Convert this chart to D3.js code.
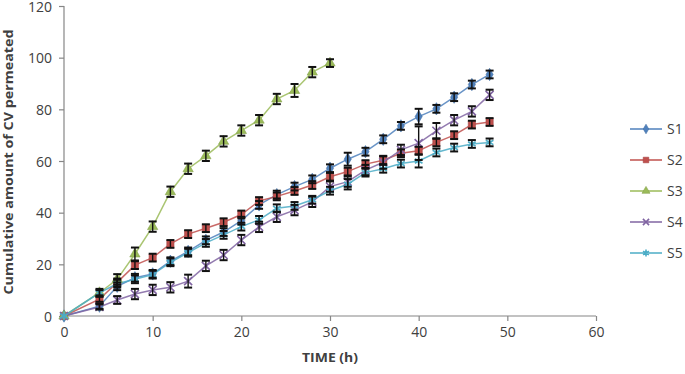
<!DOCTYPE html>
<html>
<head>
<meta charset="utf-8">
<script src="https://cdn.jsdelivr.net/npm/d3@7"></script>
<style>
  html, body { margin: 0; padding: 0; background: #fff; }
  svg { display: block; }
  text { font-family: "Open Sans", "DejaVu Sans", sans-serif; fill: #404040; }
</style>
</head>
<body>
<svg id="chart" width="685" height="374"></svg>
<script>
// ---- data ----
const timesLong = [0, 4, 6, 8, 10, 12, 14, 16, 18, 20, 22, 24, 26, 28, 30, 32, 34, 36, 38, 40, 42, 44, 46, 48];
const timesS3 = [0, 4, 6, 8, 10, 12, 14, 16, 18, 20, 22, 24, 26, 28, 30];

const s1Values = [0, 3.8, 11.5, 14.8, 16.3, 21.2, 25.0, 29.3, 32.5, 36.9, 43.0, 47.0, 50.1, 52.9, 57.2, 60.7, 63.6, 68.4, 73.6, 77.2, 80.2, 84.7, 89.6, 93.5];
const s2Values = [0, 6.5, 13.0, 19.7, 22.6, 27.9, 31.7, 34.0, 36.3, 39.3, 44.5, 46.3, 48.4, 50.7, 53.9, 55.9, 58.8, 60.3, 63.0, 64.0, 67.2, 70.0, 74.1, 75.1];
const s3Values = [0, 9.0, 14.2, 24.0, 34.6, 48.1, 57.0, 62.0, 67.6, 71.8, 75.8, 84.0, 87.3, 94.4, 97.9];
const s4Values = [0, 3.5, 6.2, 8.5, 10.1, 11.1, 13.5, 19.4, 23.6, 29.4, 34.5, 38.4, 41.0, 44.2, 50.1, 52.0, 56.5, 59.5, 64.3, 66.9, 71.7, 75.8, 79.2, 85.6];
const s5Values = [0, 9.0, 12.5, 14.2, 16.0, 20.8, 24.5, 28.3, 31.4, 34.6, 37.2, 41.7, 42.6, 45.0, 48.5, 51.0, 55.5, 57.0, 59.0, 60.0, 63.3, 65.2, 66.6, 67.2];

const s1Err = [0, 1, 1.5, 1.5, 1.5, 1.5, 1.5, 1.5, 1.5, 1.5, 1.5, 1.5, 1.5, 1.5, 1.5, 2.5, 1.5, 1.5, 1.5, 3.0, 1.5, 1.5, 1.5, 1.5];
const s2Err = [0, 1, 1.5, 1.5, 1.5, 1.5, 1.5, 1.5, 1.5, 1.5, 1.5, 1.5, 1.5, 1.5, 1.5, 1.5, 1.5, 1.5, 1.5, 1.5, 1.5, 1.5, 1.5, 1.5];
const s3Err = [0, 1.5, 2.0, 2.5, 2.0, 2.0, 2.0, 2.0, 2.0, 2.0, 2.0, 2.0, 2.5, 2.0, 1.5];
const s4Err = [0, 1, 1.5, 2.0, 2.0, 2.0, 2.5, 2.0, 2.0, 2.0, 2.0, 2.0, 2.0, 2.0, 2.0, 2.0, 2.0, 2.5, 2.0, 6.5, 3.0, 2.0, 2.0, 2.0];
const s5Err = [0, 1, 1.5, 1.5, 1.5, 1.5, 1.5, 1.5, 1.5, 1.5, 1.5, 1.5, 1.5, 1.5, 1.5, 2.0, 1.5, 1.5, 1.5, 2.5, 1.5, 1.5, 1.5, 1.5];

const seriesNames = ["S1", "S2", "S3", "S4", "S5"];
const seriesColors = ["#4F81BD", "#C0504D", "#9BBB59", "#8064A2", "#4BACC6"];
const xTicks = [0, 10, 20, 30, 40, 50, 60];
const yTicks = [0, 20, 40, 60, 80, 100, 120];
const xTitle = "TIME (h)";
const yTitle = "Cumulative amount of CV permeated";

// ---- build ----
const series = [
  { name: "S1", t: timesLong, v: s1Values, e: s1Err, sym: d3.symbolDiamond, size: 44, stroke: false },
  { name: "S2", t: timesLong, v: s2Values, e: s2Err, sym: d3.symbolSquare, size: 52, stroke: false },
  { name: "S3", t: timesS3, v: s3Values, e: s3Err, sym: d3.symbolTriangle, size: 46, stroke: false },
  { name: "S4", t: timesLong, v: s4Values, e: s4Err, sym: d3.symbolX, size: 44, stroke: true },
  { name: "S5", t: timesLong, v: s5Values, e: s5Err, sym: d3.symbolAsterisk, size: 54, stroke: true }
].map((s, i) => ({ ...s, color: seriesColors[i],
  pts: s.t.map((t, j) => ({ t, v: s.v[j], e: s.e[j] })) }));

const svg = d3.select("#chart");
const margin = { left: 64, right: 89, top: 6, bottom: 58 };
const W = 685, H = 374;
const x = d3.scaleLinear().domain([0, 60]).range([margin.left, W - margin.right]);
const y = d3.scaleLinear().domain([0, 120]).range([H - margin.bottom, margin.top]);

const axisColor = "#868686";

// axes
const gx = svg.append("g").attr("transform", `translate(0,${y(0)})`)
  .call(d3.axisBottom(x).tickValues(xTicks).tickSize(5).tickPadding(6));
const gy = svg.append("g").attr("transform", `translate(${x(0)},0)`)
  .call(d3.axisLeft(y).tickValues(yTicks).tickSize(5).tickPadding(7));
[gx, gy].forEach(g => {
  g.selectAll("path.domain").attr("stroke", axisColor).attr("stroke-width", 1.2);
  g.selectAll(".tick line").attr("stroke", axisColor).attr("stroke-width", 1.2);
  g.selectAll(".tick text").style("font-family", '"Open Sans", sans-serif')
    .style("font-size", "14px").attr("fill", "#404040");
});
gy.selectAll(".tick text").attr("dy", "0.36em");
gx.select("path.domain").attr("d", `M${x(0)},0H${x(60)}`);
gy.select("path.domain").attr("d", `M0,${y(0)}V${y(120)}`);

// titles
svg.append("text").text(xTitle)
  .attr("x", 330).attr("y", 362).attr("text-anchor", "middle")
  .attr("textLength", 56).attr("lengthAdjust", "spacingAndGlyphs")
  .style("font-weight", "bold").style("font-size", "13px").attr("fill", "#262626");
svg.append("text").text(yTitle)
  .attr("transform", `translate(12.5,${162}) rotate(-90)`)
  .attr("text-anchor", "middle")
  .attr("textLength", 265).attr("lengthAdjust", "spacingAndGlyphs")
  .style("font-weight", "bold").style("font-size", "13px").attr("fill", "#262626");

// lines
const line = d3.line().x(d => x(d.t)).y(d => y(d.v));
const plot = svg.append("g");
series.forEach(s => {
  plot.append("path").datum(s.pts).attr("d", line)
    .attr("fill", "none").attr("stroke", s.color).attr("stroke-width", 1.5).attr("stroke-opacity", 0.85);
});

// markers
function drawMarker(g, s, cx, cy) {
  const p = d3.symbol().type(s.sym).size(s.size)();
  const m = g.append("path").attr("d", p).attr("transform", `translate(${cx},${cy})`);
  if (s.stroke) m.attr("fill", "none").attr("stroke", s.color).attr("stroke-width", 1.6);
  else m.attr("fill", s.color).attr("stroke", d3.color(s.color).darker(0.4)).attr("stroke-width", 0.6);
  return m;
}
series.forEach(s => {
  s.pts.forEach(d => drawMarker(plot, s, x(d.t), y(d.v)));
});

// error bars
const capW = 4;
series.forEach(s => {
  const g = plot.append("g").attr("stroke", "#111").attr("stroke-width", 1.4);
  s.pts.filter(d => d.e > 0).forEach(d => {
    const cx = x(d.t), y1 = y(d.v + d.e), y2 = y(d.v - d.e);
    g.append("line").attr("x1", cx).attr("x2", cx).attr("y1", y1).attr("y2", y2);
    g.append("line").attr("x1", cx - capW).attr("x2", cx + capW).attr("y1", y1).attr("y2", y1).attr("stroke-width", 2);
    g.append("line").attr("x1", cx - capW).attr("x2", cx + capW).attr("y1", y2).attr("y2", y2).attr("stroke-width", 2);
  });
});

// legend
const legend = svg.append("g");
series.forEach((s, i) => {
  const cy = 129 + i * 31;
  legend.append("line").attr("x1", 630).attr("x2", 662).attr("y1", cy).attr("y2", cy)
    .attr("stroke", s.color).attr("stroke-width", 1.5);
  drawMarker(legend, { ...s, size: s.size * 0.6 }, 646, cy);
  legend.append("text").text(s.name).attr("x", 667).attr("y", cy + 5)
    .style("font-size", "14px").attr("fill", "#404040");
});
</script>
</body>
</html>
